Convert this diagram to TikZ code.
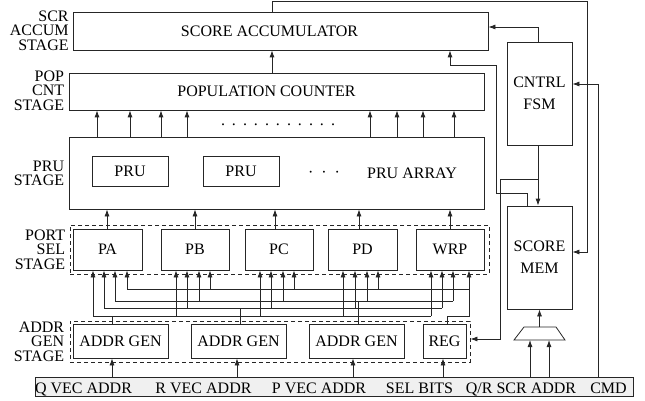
\documentclass[tikz,border=0pt]{standalone}
\usepackage{fontspec}
\setmainfont{Liberation Serif}
\usetikzlibrary{arrows.meta}
\begin{document}
\begin{tikzpicture}[x=1pt,y=-1pt,
  line width=0.8pt, draw=black!85,
  box/.style={draw=black!85, inner sep=0pt, align=center, font=\fontsize{16}{22}\selectfont},
  dbox/.style={draw=black!85, dash pattern=on 4pt off 3pt, inner sep=0pt},
  lbl/.style={anchor=north east, inner sep=0pt, align=right, font=\fontsize{16}{14.7}\selectfont},
  txt/.style={inner sep=0pt, font=\fontsize{16}{20}\selectfont},
  arr/.style={-{Latex[length=7pt,width=5pt]}}
]
\useasboundingbox (0,0) rectangle (645,401);

% stage boxes
\node[box, minimum width=415pt, minimum height=38pt] (sa) at (280.5,31) {};
\node[txt] (satext) at (269.5,31) {SCORE ACCUMULATOR};
\node[box, minimum width=415pt, minimum height=37pt] (pc) at (276.5,91.5) {};
\node[txt] (pctext) at (266.5,91.5) {POPULATION COUNTER};
\node[box, minimum width=415pt, minimum height=72pt] (pru) at (276.5,173) {};
\node[box, minimum width=76pt, minimum height=30pt] (pru1) at (130,171) {PRU};
\node[box, minimum width=76pt, minimum height=30pt] (pru2) at (241,171) {PRU};
\node[txt, anchor=base] (prudots) at (324,177.5) {·\hspace{8pt}·\hspace{8pt}·};
\node[txt] (pruarr) at (412,173) {PRU ARRAY};
\node[txt, anchor=base] (popdots) at (278,126) {.\hspace{7pt}.\hspace{7pt}.\hspace{7pt}.\hspace{7pt}.\hspace{7pt}.\hspace{7pt}.\hspace{7pt}.\hspace{7pt}.\hspace{7pt}.\hspace{7pt}.};

% port select stage
\node[dbox, minimum width=419pt, minimum height=49pt] (psel) at (279.5,249.5) {};
\node[box, minimum width=69pt, minimum height=41pt] (pa) at (107.5,249.5) {PA};
\node[box, minimum width=68pt, minimum height=41pt] (pb) at (195,249.5) {PB};
\node[box, minimum width=68pt, minimum height=41pt] (pcx) at (279,249.5) {PC};
\node[box, minimum width=69pt, minimum height=41pt] (pd) at (362.5,249.5) {PD};
\node[box, minimum width=68pt, minimum height=41pt] (wrp) at (450,249.5) {WRP};

% address generation stage
\node[dbox, minimum width=400pt, minimum height=41pt] (agst) at (270,341.5) {};
\node[box, minimum width=95pt, minimum height=34pt] (ag1) at (120.5,341) {ADDR GEN};
\node[box, minimum width=95pt, minimum height=34pt] (ag2) at (238.5,341) {ADDR GEN};
\node[box, minimum width=95pt, minimum height=34pt] (ag3) at (356.5,341) {ADDR GEN};
\node[box, minimum width=43pt, minimum height=34pt] (reg) at (444.5,341) {REG};

% control and memory
\node[box, minimum width=65pt, minimum height=103pt] (fsm) at (539.5,93.5) {CNTRL\\FSM};
\node[box, minimum width=65pt, minimum height=103pt] (smem) at (539.5,257.5) {SCORE\\MEM};
% multiplexer
\coordinate (muxtop) at (539.5,327);
\coordinate (muxbot) at (539.5,340);
\draw[line join=miter] (514,340) -- (524,327) -- (556,327) -- (565,340) -- cycle;

% input bar
\node[draw=black!85, fill=black!6, minimum width=598pt, minimum height=19pt, inner sep=0pt] (bar) at (334,386.5) {};
\node[txt, anchor=base] (qv) at (83.5,393) {Q VEC ADDR};
\node[txt, anchor=base] (rv) at (203.5,393) {R VEC ADDR};
\node[txt, anchor=base] (pv) at (319,393) {P VEC ADDR};
\node[txt, anchor=base] (sb) at (419.5,393) {SEL BITS};
\node[txt, anchor=base] (qr) at (521,393) {Q/R SCR ADDR};
\node[txt, anchor=base] (cmd) at (608.5,393) {CMD};

% stage labels
\node[lbl] (l1) at (69,10.2) {SCR\\ACCUM\\STAGE};
\node[lbl] (l2) at (64.5,70.2) {POP\\CNT\\STAGE};
\node[lbl] (l3) at (64.5,160.2) {PRU\\STAGE};
\node[lbl] (l4) at (65.5,229.2) {PORT\\SEL\\STAGE};
\node[lbl] (l5) at (64.5,321.2) {ADDR\\GEN\\STAGE};

% PRU -> POP -> SA
\foreach \x in {97,130,161,187,370,397,423,454}
  \draw[arr] (\x,0 |- pru.north) -- (\x,0 |- pc.south);
\draw[arr] (272,0 |- pc.north) -- (272,0 |- sa.south);

% ports -> PRU
\foreach \x/\n in {107/pa,195/pb,275/pcx,359/pd,450/wrp}
  \draw[arr] (\x,0 |- \n.north) -- (\x,0 |- pru.south);

% buses
\draw (93,316) -- (431,316);
\draw (104,308) -- (442,308);
\draw (115,301) -- (453,301);
\draw (127,289) -- (469,289);
\foreach \x in {93,176,260,343,431} \draw[arr] (\x,316) -- (\x,0 |- pa.south);
\foreach \x in {104,187,271,355,442} \draw[arr] (\x,308) -- (\x,0 |- pa.south);
\foreach \x in {115,199,283,367,453} \draw[arr] (\x,301) -- (\x,0 |- pa.south);
\foreach \x in {127,210,294,378} \draw[arr] (\x,289) -- (\x,0 |- pa.south);
\draw (112,0 |- ag1.north) -- (112,316);
\draw (240,0 |- ag2.north) -- (240,308);
\draw (358,0 |- ag3.north) -- (358,301);
\draw[arr] (447,0 |- reg.north) -- (447,316) -- (469,316) -- (469,0 |- wrp.south);

% inputs -> address generators
\foreach \x/\n in {112/ag1,237/ag2,353/ag3,443/reg}
  \draw[arr] (\x,0 |- bar.north) -- (\x,0 |- \n.south);
\draw[arr] (530,0 |- bar.north) -- (530,0 |- muxbot);
\draw[arr] (549,0 |- bar.north) -- (549,0 |- muxbot);
\draw[arr] (muxtop) -- (smem.south);

% right-side control wiring
\draw[arr] (272,0 |- sa.north) -- (272,1.5) -- (587,1.5) -- (587,252) -- (587,252 -| smem.east);
\draw[arr] (598,0 |- bar.north) -- (598,84) -- (598,84 -| fsm.east);
\draw[arr] (538,0 |- fsm.north) -- (538,27) -- (538,27 -| sa.east);
\draw[arr] (538,0 |- fsm.south) -- (538,0 |- smem.north);
\draw[arr] (538,179) -- (500,179) -- (500,339) -- (500,339 -| agst.east);
\draw[arr] (527,0 |- smem.north) -- (527,193) -- (496,193) -- (496,65) -- (450,65) -- (450,0 |- sa.south);
\end{tikzpicture}
\end{document}
